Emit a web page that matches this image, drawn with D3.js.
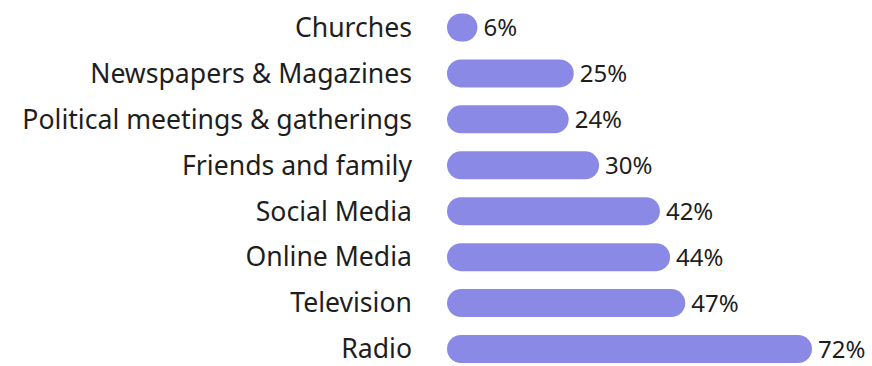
<!DOCTYPE html>
<html>
<head>
<meta charset="utf-8">
<script src="https://cdn.jsdelivr.net/npm/d3@7"></script>
<style>
  html, body { margin: 0; padding: 0; background: #fff; }
  svg { display: block; }
  text { font-family: "Noto Sans", "Open Sans", sans-serif; fill: #1e1e1e; }
</style>
</head>
<body>
<svg id="chart" width="872" height="366"></svg>
<script>
// Sources of information, share of respondents (%)
const categories = [
  "Churches",
  "Newspapers & Magazines",
  "Political meetings & gatherings",
  "Friends and family",
  "Social Media",
  "Online Media",
  "Television",
  "Radio"
];
const values = [6, 25, 24, 30, 42, 44, 47, 72];

const svg = d3.select("#chart");
const barLeft = 447;
const barH = 28;

const x = d3.scaleLinear().domain([0, 72]).range([0, 365]);
const y = d3.scalePoint().domain(categories).range([27.5, 349]);

const rows = svg.selectAll("g.row")
  .data(categories.map((c, i) => ({ cat: c, val: values[i] })))
  .join("g")
  .attr("class", "row")
  .attr("transform", d => `translate(0,${y(d.cat)})`);

rows.append("rect")
  .attr("x", barLeft)
  .attr("y", -barH / 2)
  .attr("width", d => Math.max(barH, x(d.val)))
  .attr("height", barH)
  .attr("rx", barH / 2)
  .attr("fill", "#8a8ae6");

rows.append("text")
  .attr("x", 412)
  .attr("dy", "0.35em")
  .attr("text-anchor", "end")
  .attr("font-size", 26.6)
  .text(d => d.cat);

rows.append("text")
  .attr("x", d => barLeft + Math.max(barH, x(d.val)) + 6)
  .attr("dy", "0.36em")
  .attr("font-size", 24)
  .text(d => d.val + "%");
</script>
</body>
</html>
